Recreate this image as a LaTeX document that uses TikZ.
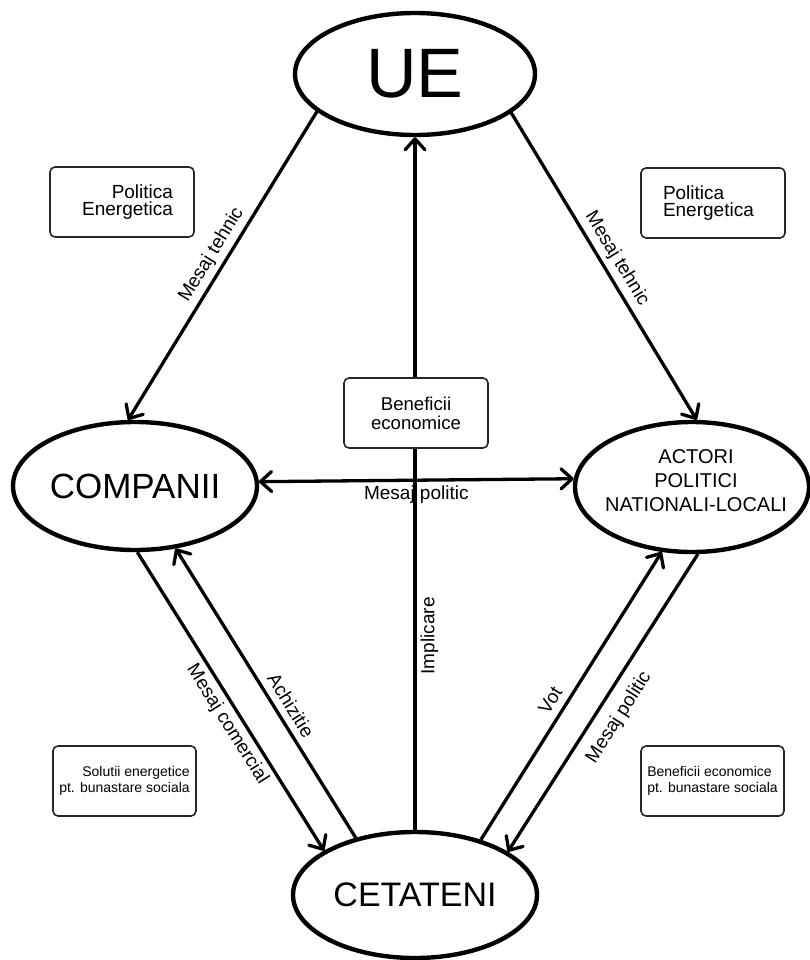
\documentclass[tikz,border=0pt]{standalone}
\usepackage{fontspec}
\setmainfont{Liberation Sans}
\usetikzlibrary{arrows.meta,shapes.geometric}
\begin{document}
\begin{tikzpicture}[x=1pt,y=-1pt,
  actor/.style={ellipse, draw, line width=4.4pt, inner sep=0pt},
  infobox/.style={draw=black!85, rounded corners=5pt, line width=1.6pt, minimum height=70pt, inner ysep=0pt},
  barb/.tip={Straight Barb[length=11pt,width=20pt,line cap=round,line join=round]},
  link/.style={line width=3.3pt, -barb},
  lbl/.style={font=\fontsize{19}{22}\selectfont, inner sep=4.5pt, sloped},
]
\useasboundingbox (0,0) rectangle (810,960);
\fill[white] (0,0) rectangle (810,960);

% ellipses
\node[actor, minimum width=240pt, minimum height=122pt,
  label={[font=\fontsize{70}{80}\selectfont]center:UE}] (ue) at (415,74) {};
\node[actor, minimum width=244pt, minimum height=128pt,
  label={[font=\fontsize{35}{40}\selectfont]center:COMPANII}] (comp) at (135,486) {};
\node[actor, minimum width=234pt, minimum height=130pt,
  label={[font=\fontsize{20}{24}\selectfont, align=center, xshift=4pt, yshift=6pt]center:ACTORI\\POLITICI\\NATIONALI-LOCALI}] (act) at (692,487) {};
\node[actor, minimum width=244pt, minimum height=126pt,
  label={[font=\fontsize{34}{40}\selectfont]center:CETATENI}] (cet) at (415,895) {};

% connectors
\draw[link] (ue.201.3) -- (comp.96.2) node[lbl, above, pos=0.49] {Mesaj tehnic};
\draw[link] (ue.338.7) -- (act.86.5) node[lbl, above, pos=0.5] {Mesaj tehnic};
\draw[link] (cet.90) -- (ue.270) node[font=\fontsize{19}{22}\selectfont, inner sep=4pt, rotate=90, anchor=north, pos=0.28] {Implicare};
\draw[line width=3.3pt, barb-barb] (comp.2.5) -- (act.176.5) node[font=\fontsize{19}{22}\selectfont, inner sep=4pt, below, pos=0.5] {Mesaj politic};
\draw[link] (comp.272.7) -- (cet.154.5) node[lbl, below, pos=0.55] {Mesaj comercial};
\draw[link] (cet.136) -- (comp.303.5) node[lbl, above, inner sep=6.5pt, pos=0.43] {Achizitie};
\draw[link] (cet.40.7) -- (act.245.3) node[lbl, above, inner sep=7pt, pos=0.455] {Vot};
\draw[link] (act.275.3) -- (cet.25) node[lbl, below, inner sep=11pt, pos=0.51] {Mesaj politic};

% boxes
\node[infobox, fill=white, minimum width=144pt, align=center, font=\fontsize{18.6}{19}\selectfont] (ben) at (416,413) {Beneficii\\economice};
\node[infobox, text width=102pt, inner xsep=21pt, align=right, font=\fontsize{19}{17.5}\selectfont] (pe1) at (122,202) {Politica\\Energetica};
\node[infobox, text width=100pt, inner xsep=22pt, align=left, font=\fontsize{19}{17.5}\selectfont] (pe2) at (713,203) {Politica\\Energetica};
\node[infobox, minimum width=143pt, align=right, font=\fontsize{14}{16}\selectfont] (sol) at (124.5,781) {Solutii energetice\\pt. bunastare sociala};
\node[infobox, minimum width=143pt, align=left, font=\fontsize{14}{16}\selectfont] (bes) at (712.5,781) {Beneficii economice\\pt. bunastare sociala};
\end{tikzpicture}
\end{document}
